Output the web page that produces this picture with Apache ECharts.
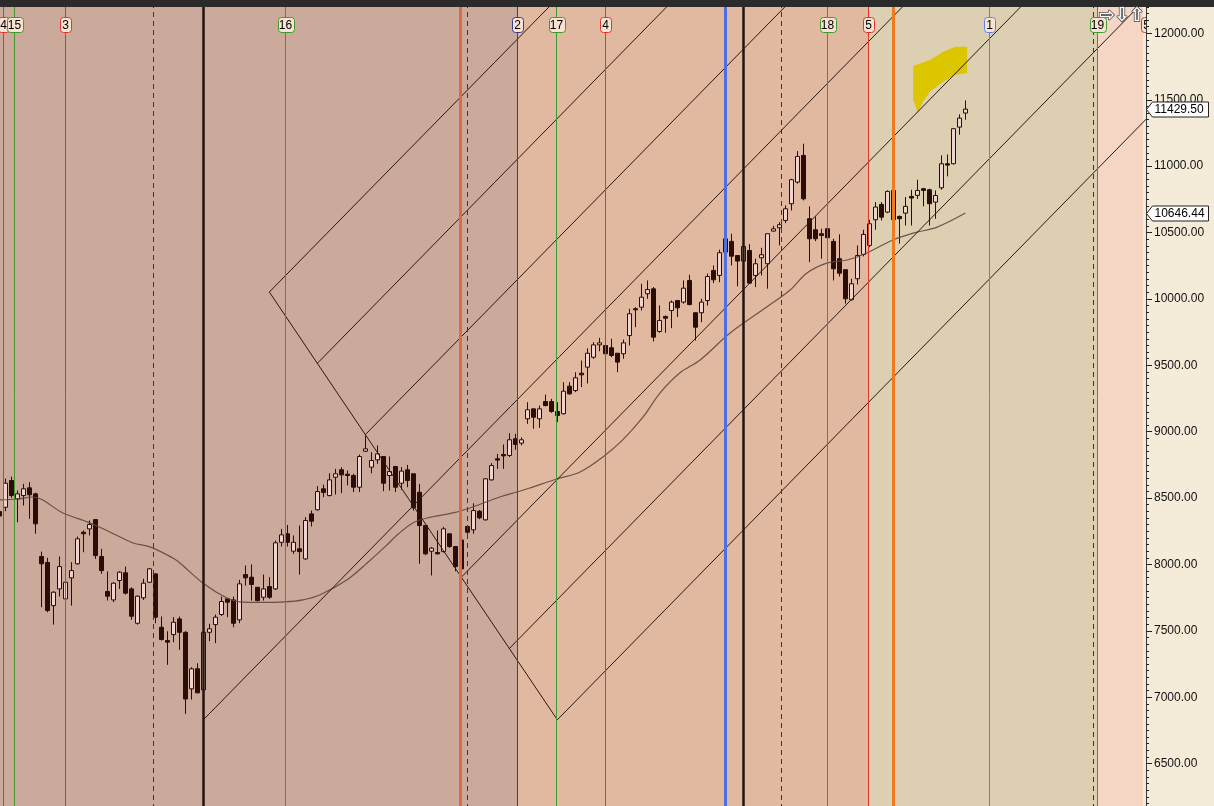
<!DOCTYPE html>
<html><head><meta charset="utf-8">
<script src="https://cdn.jsdelivr.net/npm/echarts@6/dist/echarts.min.js"></script>
<style>html,body{margin:0;padding:0;background:#f4ebd9;overflow:hidden;width:1214px;height:806px;position:relative}
#c{position:absolute;left:0;top:-33px;width:1214px;height:863px}</style>
</head><body><div id="c"></div>
<script>
// ---------- DATA ----------
const firstBar = -1; // bar index of the first candle
const opens  = [8398,8431,8632,8494,8519,8577,8532,8060,8015,7690,7816,7741,7899,8005,8243,8268,8338,8060,7796,7733,7879,7937,7816,7557,7749,7866,7929,7527,7427,7472,7590,7489,7063,7214,7055,7489,7547,7623,7741,7733,7583,7924,7904,7828,7753,7834,7816,8167,8231,8100,8118,8042,8381,8412,8570,8519,8657,8713,8680,8670,8582,8853,8733,8788,8813,8670,8738,8612,8713,8683,8544,8293,8100,8090,8097,8231,8135,8184,8286,8261,8401,8336,8637,8796,8828,8821,8947,8914,9097,9172,9097,9227,9227,9152,9135,9343,9310,9441,9486,9561,9654,9649,9632,9591,9587,9724,9926,9938,10039,10076,9755,9868,9913,9988,9976,10139,9896,9896,9988,10214,10177,10352,10433,10327,10285,10365,10177,10310,10265,10511,10536,10591,10717,10880,11081,10604,10521,10491,10529,10433,10303,10220,9994,10152,10335,10403,10596,10712,10654,10817,10621,10646,10772,10780,10830,10822,10729,10837,11018,11018,11294,11400];
const closes = [8365,8612,8519,8532,8570,8525,8306,8005,7653,7791,7984,7866,7954,8193,8231,8301,8067,7954,7761,7859,7942,7784,7610,7761,7859,7967,7603,7435,7415,7565,7489,6987,7214,7033,7489,7515,7603,7721,7716,7557,7854,7899,7849,7728,7816,7753,8163,8223,8167,8167,8097,8331,8326,8549,8542,8637,8683,8675,8670,8582,8813,8871,8783,8833,8612,8700,8582,8703,8632,8427,8293,8080,8123,8080,8268,8135,7984,7967,8243,8406,8351,8645,8745,8786,8818,8939,8904,8939,9165,9109,9172,9197,9152,9122,9305,9285,9406,9428,9591,9654,9669,9587,9574,9524,9669,9888,9918,10013,10071,9712,9838,9855,9976,9933,10081,9958,9787,9976,10169,10144,10348,10453,10322,10285,10395,10119,10265,10333,10491,10528,10559,10679,10898,11073,10754,10453,10453,10478,10461,10227,10194,10001,10114,10327,10486,10566,10692,10616,10810,10596,10604,10697,10760,10817,10817,10717,10779,11018,11008,11282,11362,11429.5];
const lows   = [8358,8401,8502,8318,8444,8344,8231,7678,7640,7547,7758,7734,7690,7999,8092,8218,8042,7929,7728,7716,7816,7773,7583,7547,7733,7860,7557,7427,7244,7414,7357,6875,6982,7030,7020,7422,7407,7612,7603,7527,7558,7841,7728,7720,7728,7741,7808,8135,8135,8080,7924,8035,8286,8406,8507,8512,8527,8537,8595,8545,8545,8846,8687,8758,8552,8557,8545,8562,8582,8406,8005,8070,7917,8075,8090,8125,7949,7930,8230,8231,8341,8331,8632,8720,8720,8809,8864,8897,9059,9022,9029,9190,9142,9072,9130,9278,9298,9336,9363,9549,9606,9578,9561,9448,9549,9649,9787,9913,10001,9679,9745,9745,9780,9863,9964,9951,9687,9825,9950,10119,10126,10340,10252,10094,10280,10114,10089,10177,10077,10508,10403,10571,10666,10868,10742,10277,10435,10303,10440,10139,10169,9964,9988,10109,10320,10390,10521,10591,10646,10591,10416,10553,10553,10754,10697,10553,10604,10822,10923,11013,11237,11350];
const highs  = [8405,8647,8662,8557,8607,8620,8540,8097,8050,7798,8060,7879,8017,8210,8256,8331,8338,8118,7947,7866,7949,7984,7828,7766,7892,7974,7934,7608,7497,7603,7608,7497,7226,7256,7502,7553,7623,7758,7749,7758,7884,7992,8000,7830,7924,7904,8180,8268,8298,8218,8293,8356,8406,8590,8602,8687,8720,8732,8708,8683,8828,8971,8846,8896,8813,8813,8738,8733,8750,8683,8607,8293,8130,8256,8283,8231,8135,8200,8290,8461,8410,8650,8763,8833,8904,8989,8984,8957,9222,9172,9197,9280,9247,9222,9373,9373,9448,9536,9628,9674,9707,9649,9700,9591,9694,9926,9938,10114,10139,10089,9951,9875,9988,9988,10139,10182,9896,10001,10191,10252,10371,10508,10491,10327,10400,10413,10303,10385,10491,10551,10579,10704,10905,11113,11169,10697,10621,10529,10631,10453,10486,10220,10152,10403,10521,10596,10729,10729,10817,10817,10629,10767,10822,10898,10837,10830,10817,11081,11088,11282,11390,11495];

// moving average (bar index, value)
const maIdx = [-0.9,2,4.6,9.6,14.1,17.4,21.3,24.1,27.9,29.1,32.9,36.9,39.1,42.4,46.6,49.6,52.4,56.9,60.3,63.6,65.3,67.9,70.3,74.6,77.9,82.4,85.3,87.4,91.9,95.8,99.6,102.9,106.3,109.1,112.4,115.8,120.8,126.9,130.8,133.6,136.9,140.3,143.6,147.9,151.3,155.3,160];
const maVal = [8486,8493,8508,8388,8313,8245,8162,8132,8049,8011,7861,7748,7718,7714,7718,7733,7770,7883,8011,8147,8222,8313,8350,8388,8433,8508,8546,8576,8644,8697,8810,8938,9111,9291,9442,9540,9743,9939,10067,10195,10270,10293,10346,10444,10496,10541,10646.44];

// background time zones (bar index ranges)
const zoneStart = [-0.889, 85.3, 143.8, 182.1];
const zoneEnd   = [85.3, 143.8, 182.1, 189.6];
const zoneColor = ['#cba99b', '#e1b9a1', '#ddcfb2', '#f5d6c5'];

// vertical cycle lines
const vIdx   = [-0.34, 1.5, 10.0, 24.7, 33.0, 46.7, 75.9, 77.1, 85.3, 91.8, 100.0, 120.0, 123.0, 129.3, 137.0, 143.8, 148.0, 164.0, 181.3, 182.1, 190.25];
const vLabel = ['4','15','3','','','16','','','2','17','4','','','','18','5','','1','','19','5'];
const vKind  = ['red','green','red','dash','black','green','orangeA','dash','navy','green','red','blue','black','dash','green','red','orangeB','blueThin','dash','green','red'];

// diagonal drawing lines: start and end (bar index, price)
const diagX0 = [44, 52, 60, 33, 76, 84, 92, 44];
const diagY0 = [10052, 9515, 8978, 6830, 7904, 7367, 6830, 10052];
const diagX1 = [92.8, 112.4, 132.1, 151.7, 171.4, 191.0, 195, 92];
const diagY1 = [12300, 12300, 12300, 12300, 12300, 12300, 11578, 6830];

// yellow highlight polygon
const hiIdx   = [151.3,154.1,156.3,158.3,160.3,160.3,158.3,156.3,154.1,152.8,152.1,151.3];
const hiPrice = [11754,11799,11861,11899,11899,11701,11686,11636,11560,11475,11400,11498];

// price tags on the axis
const tagValues = [11429.50, 10646.44];

// ---------- STYLES ----------
const OFF = 33; // chart div starts 33px above the page
const KIND = {
  red:{c:'#e4342a',w:1}, green:{c:'#3f9a2e',w:1}, dash:{c:'#4b3029',w:1,dash:[5,4]},
  black:{c:'#24140f',w:2.5}, orangeA:{c:'#d96c45',w:3}, orangeB:{c:'#f07a1e',w:3},
  navy:{c:'#3b3b8e',w:1}, blue:{c:'#4c70e4',w:3}, blueThin:{c:'#5b82f0',w:1}
};
const FONT = '12px "Liberation Sans", Arial, sans-serif';

const candleData = opens.map((o, i) => [firstBar + i, o, closes[i], lows[i], highs[i]]);
const maData = maIdx.map((x, i) => [x, maVal[i]]);

const chart = echarts.init(document.getElementById('c'), null, {renderer:'canvas'});

const series = [];
// zones
series.push({
  type:'custom', z:1, clip:true, silent:true,
  data: zoneStart.map((s, i) => [s, zoneEnd[i]]),
  renderItem(params, api) {
    const cs = params.coordSys;
    const x0 = Math.round(api.coord([api.value(0), 9000])[0]);
    const x1 = Math.round(api.coord([api.value(1), 9000])[0]);
    return {type:'rect', shape:{x:x0, y:cs.y, width:x1 - x0, height:cs.height},
      style:{fill: zoneColor[params.dataIndex]}};
  }
});
// candles
series.push({
  type:'candlestick', z:2, data:candleData, barWidth:4, silent:true,
  itemStyle:{color:'#efd3cf', color0:'#2a0c08', borderColor:'#2a0c08', borderColor0:'#2a0c08', borderWidth:1}
});
// yellow highlight
series.push({
  type:'custom', z:3, clip:true, silent:true,
  data:[[hiIdx[0], hiPrice[0]]],
  renderItem(params, api) {
    const pts = hiIdx.map((x, i) => api.coord([x, hiPrice[i]]));
    return {type:'polygon', shape:{points:pts}, style:{fill:'#dcc600'}};
  }
});
// moving average
series.push({
  type:'line', z:4, data:maData, smooth:0.35, symbol:'none', silent:true,
  lineStyle:{color:'#5c4842', width:1.2, opacity:0.9}
});
// diagonal lines
diagX0.forEach((x0, i) => {
  series.push({
    type:'line', z:5, silent:true, symbol:'none', clip:true,
    data:[[x0, diagY0[i]], [diagX1[i], diagY1[i]]],
    lineStyle:{color:'#2b1712', width:1}
  });
});
// vertical lines + labels
series.push({
  type:'custom', z:6, clip:true, silent:true,
  data: vIdx.map(v => [v, 9000]),
  renderItem(params, api) {
    const i = params.dataIndex;
    const cs = params.coordSys;
    const st = KIND[vKind[i]];
    let x = api.coord([api.value(0), 9000])[0];
    if (Math.round(st.w) % 2 === 1) x = Math.round(x - 0.5) + 0.5; else x = Math.round(x);
    const style = {stroke:st.c, lineWidth:st.w};
    if (st.dash) style.lineDash = st.dash;
    const children = [{type:'line', shape:{x1:x, y1:cs.y, x2:x, y2:cs.y + cs.height}, style}];
    const lab = vLabel[i];
    if (lab) {
      const w = lab.length > 1 ? 16 : 11;
      children.push({type:'rect', shape:{x:Math.round(x - w/2) + 0.5, y:OFF + 17.5, width:w, height:15, r:3},
        style:{fill:'#f8e3d3', stroke:st.c, lineWidth:1}});
      children.push({type:'text', style:{text:lab, x:x, y:OFF + 25.5, align:'center', verticalAlign:'middle', font:FONT, fill:'#000'}});
    }
    return {type:'group', children};
  }
});
// price tags
series.push({
  type:'custom', z:20, clip:false, silent:true,
  data: tagValues.map(v => [190, v]),
  renderItem(params, api) {
    const cs = params.coordSys;
    const y = Math.round(api.coord([190, api.value(1)])[1]) + 0.5;
    const x = cs.x + cs.width + 0.5;
    const h = 7.5;
    return {type:'group', children:[
      {type:'polygon', shape:{points:[[x, y],[x+6, y-h],[x+62, y-h],[x+62, y+h],[x+6, y+h]]},
        style:{fill:'#ffffff', stroke:'#222', lineWidth:1}},
      {type:'text', style:{text: api.value(1).toFixed(2), x:x+8, y:y+0.5, align:'left', verticalAlign:'middle', font:FONT, fill:'#000'}}
    ]};
  }
});

chart.setOption({
  animation:false,
  backgroundColor:'#f4ebd9',
  grid:{left:0, right:68, top:0, bottom:0, containLabel:false, outerBoundsMode:'none'},
  xAxis:{type:'value', min:-0.889, max:190.111, show:false},
  yAxis:{type:'value', position:'right', min:6000, max:12500, interval:500, z:10,
    axisLine:{show:true, onZero:false, lineStyle:{color:'#3a3a3a', width:1}},
    axisTick:{show:true, inside:false, length:6, lineStyle:{color:'#222'}},
    minorTick:{show:true, splitNumber:10, length:3, lineStyle:{color:'#222'}},
    splitLine:{show:false}, minorSplitLine:{show:false},
    axisLabel:{formatter:v => v.toFixed(2), color:'#111', fontSize:12, fontFamily:'Liberation Sans', margin:8}
  },
  series,
  graphic:{elements:[
    {type:'rect', z:100, shape:{x:0, y:0, width:1214, height:OFF + 7}, style:{fill:'#2b2b2b'}},
    {type:'text', z:100, style:{text:'\u21E8', x:1107, y:OFF + 16, align:'center', verticalAlign:'middle', font:'bold 19px "DejaVu Sans"', fill:'#fff', stroke:'#444', lineWidth:1.5}},
    {type:'text', z:100, style:{text:'\u21E9', x:1122, y:OFF + 16, align:'center', verticalAlign:'middle', font:'bold 19px "DejaVu Sans"', fill:'#fff', stroke:'#444', lineWidth:1.5}},
    {type:'text', z:100, style:{text:'\u21E7', x:1137, y:OFF + 16, align:'center', verticalAlign:'middle', font:'bold 19px "DejaVu Sans"', fill:'#fff', stroke:'#444', lineWidth:1.5}}
  ]}
});
</script></body></html>
